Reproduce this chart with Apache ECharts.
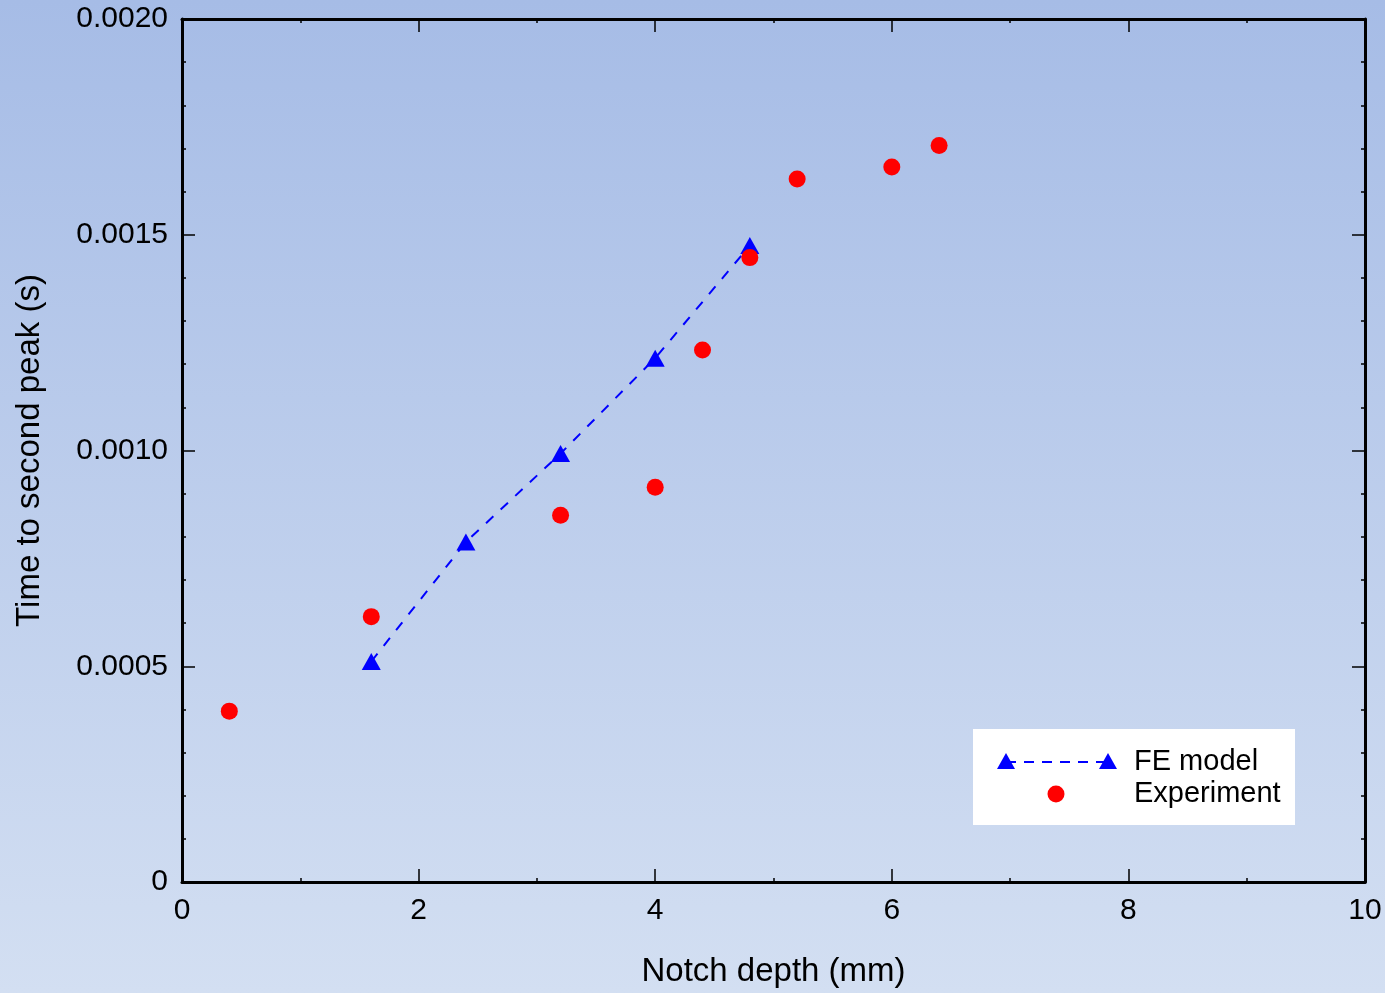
<!DOCTYPE html>
<html>
<head>
<meta charset="utf-8">
<script src="https://cdn.jsdelivr.net/npm/echarts@6/dist/echarts.min.js"></script>
<style>
html,body{margin:0;padding:0;}
#c{width:1385px;height:993px;}
</style>
</head>
<body>
<div id="c"></div>
<script>
var feX = [1.6, 2.4, 3.2, 4.0, 4.8];
var feY = [0.000511, 0.000788, 0.000993, 0.001214, 0.001475];
var expX = [0.4, 1.6, 3.2, 4.0, 4.4, 4.8, 5.2, 6.0, 6.4];
var expY = [0.000396, 0.000615, 0.00085, 0.000915, 0.001233, 0.001447, 0.001629, 0.001657, 0.001707];
var yTicks = ['0', '0.0005', '0.0010', '0.0015', '0.0020'];

var FONT = 'Liberation Sans, Arial, sans-serif';
var chart = echarts.init(document.getElementById('c'));

function zip(xs, ys){ return xs.map(function(x,i){ return [x, ys[i]]; }); }

function axisLine(){ return {show: true, onZero: false, lineStyle: {color: '#000', width: 3}}; }
function axisTick(){ return {show: true, inside: true, length: 13, lineStyle: {color: '#000', width: 1.5}}; }
function minorTick(n){ return {show: true, splitNumber: n, length: 4, lineStyle: {color: '#000', width: 1.5}}; }

chart.setOption({
  backgroundColor: {
    type: 'linear', x: 0, y: 0, x2: 0, y2: 1,
    colorStops: [{offset: 0, color: '#a6bce6'}, {offset: 1, color: '#d3dff2'}]
  },
  animation: false,
  grid: {left: 182, right: 20, top: 19, bottom: 106},
  xAxis: [
    {
      type: 'value', min: 0, max: 10, interval: 2,
      name: 'Notch depth (mm)', nameLocation: 'middle', nameGap: 73,
      nameTextStyle: {fontFamily: FONT, fontSize: 33, color: '#000'},
      axisLabel: {fontFamily: FONT, fontSize: 30, color: '#000', margin: 14},
      axisLine: axisLine(), axisTick: axisTick(), minorTick: minorTick(2), splitLine: {show: false}
    },
    {
      type: 'value', min: 0, max: 10, interval: 2, position: 'top',
      axisLabel: {show: false},
      axisLine: axisLine(), axisTick: axisTick(), minorTick: minorTick(2), splitLine: {show: false}
    }
  ],
  yAxis: [
    {
      type: 'value', min: 0, max: 0.002, interval: 0.0005,
      name: 'Time to second peak (s)', nameLocation: 'middle', nameGap: 136,
      nameTextStyle: {fontFamily: FONT, fontSize: 33, color: '#000'},
      axisLabel: {fontFamily: FONT, fontSize: 30, color: '#000', margin: 14,
        formatter: function(v){ var i = Math.round(v / 0.0005); return yTicks[i]; }},
      axisLine: axisLine(), axisTick: axisTick(), minorTick: minorTick(5), splitLine: {show: false}
    },
    {
      type: 'value', min: 0, max: 0.002, interval: 0.0005, position: 'right',
      axisLabel: {show: false},
      axisLine: axisLine(), axisTick: axisTick(), minorTick: minorTick(5), splitLine: {show: false}
    }
  ],
  series: [
    {
      name: 'FE model', type: 'line', xAxisIndex: 0, yAxisIndex: 0,
      data: zip(feX, feY),
      symbol: 'triangle', symbolSize: [19, 17],
      itemStyle: {color: '#0000ff', opacity: 1},
      lineStyle: {color: '#0000ff', width: 2, type: [10, 10]},
      z: 3
    },
    {
      name: 'Experiment', type: 'scatter', xAxisIndex: 0, yAxisIndex: 0,
      data: zip(expX, expY),
      symbol: 'circle', symbolSize: 17,
      itemStyle: {color: '#ff0000', opacity: 1},
      z: 4
    }
  ],
  graphic: [
    {type: 'rect', shape: {x: 973, y: 729, width: 322, height: 96}, style: {fill: '#ffffff'}, z: 10},
    {type: 'line', shape: {x1: 1006, y1: 762, x2: 1108, y2: 762},
      style: {stroke: '#0000ff', lineWidth: 2, lineDash: [10, 8]}, z: 11},
    {type: 'polygon', shape: {points: [[1006, 753], [997, 769], [1015, 769]]}, style: {fill: '#0000ff'}, z: 12},
    {type: 'polygon', shape: {points: [[1108, 753], [1099, 769], [1117, 769]]}, style: {fill: '#0000ff'}, z: 12},
    {type: 'circle', shape: {cx: 1056, cy: 794, r: 8.5}, style: {fill: '#ff0000'}, z: 12},
    {type: 'text', left: 1134, top: 747, style: {text: 'FE model', font: '29px Liberation Sans, Arial, sans-serif', fill: '#000'}, z: 12},
    {type: 'text', left: 1134, top: 779, style: {text: 'Experiment', font: '29px Liberation Sans, Arial, sans-serif', fill: '#000'}, z: 12}
  ]
});
</script>
</body>
</html>
